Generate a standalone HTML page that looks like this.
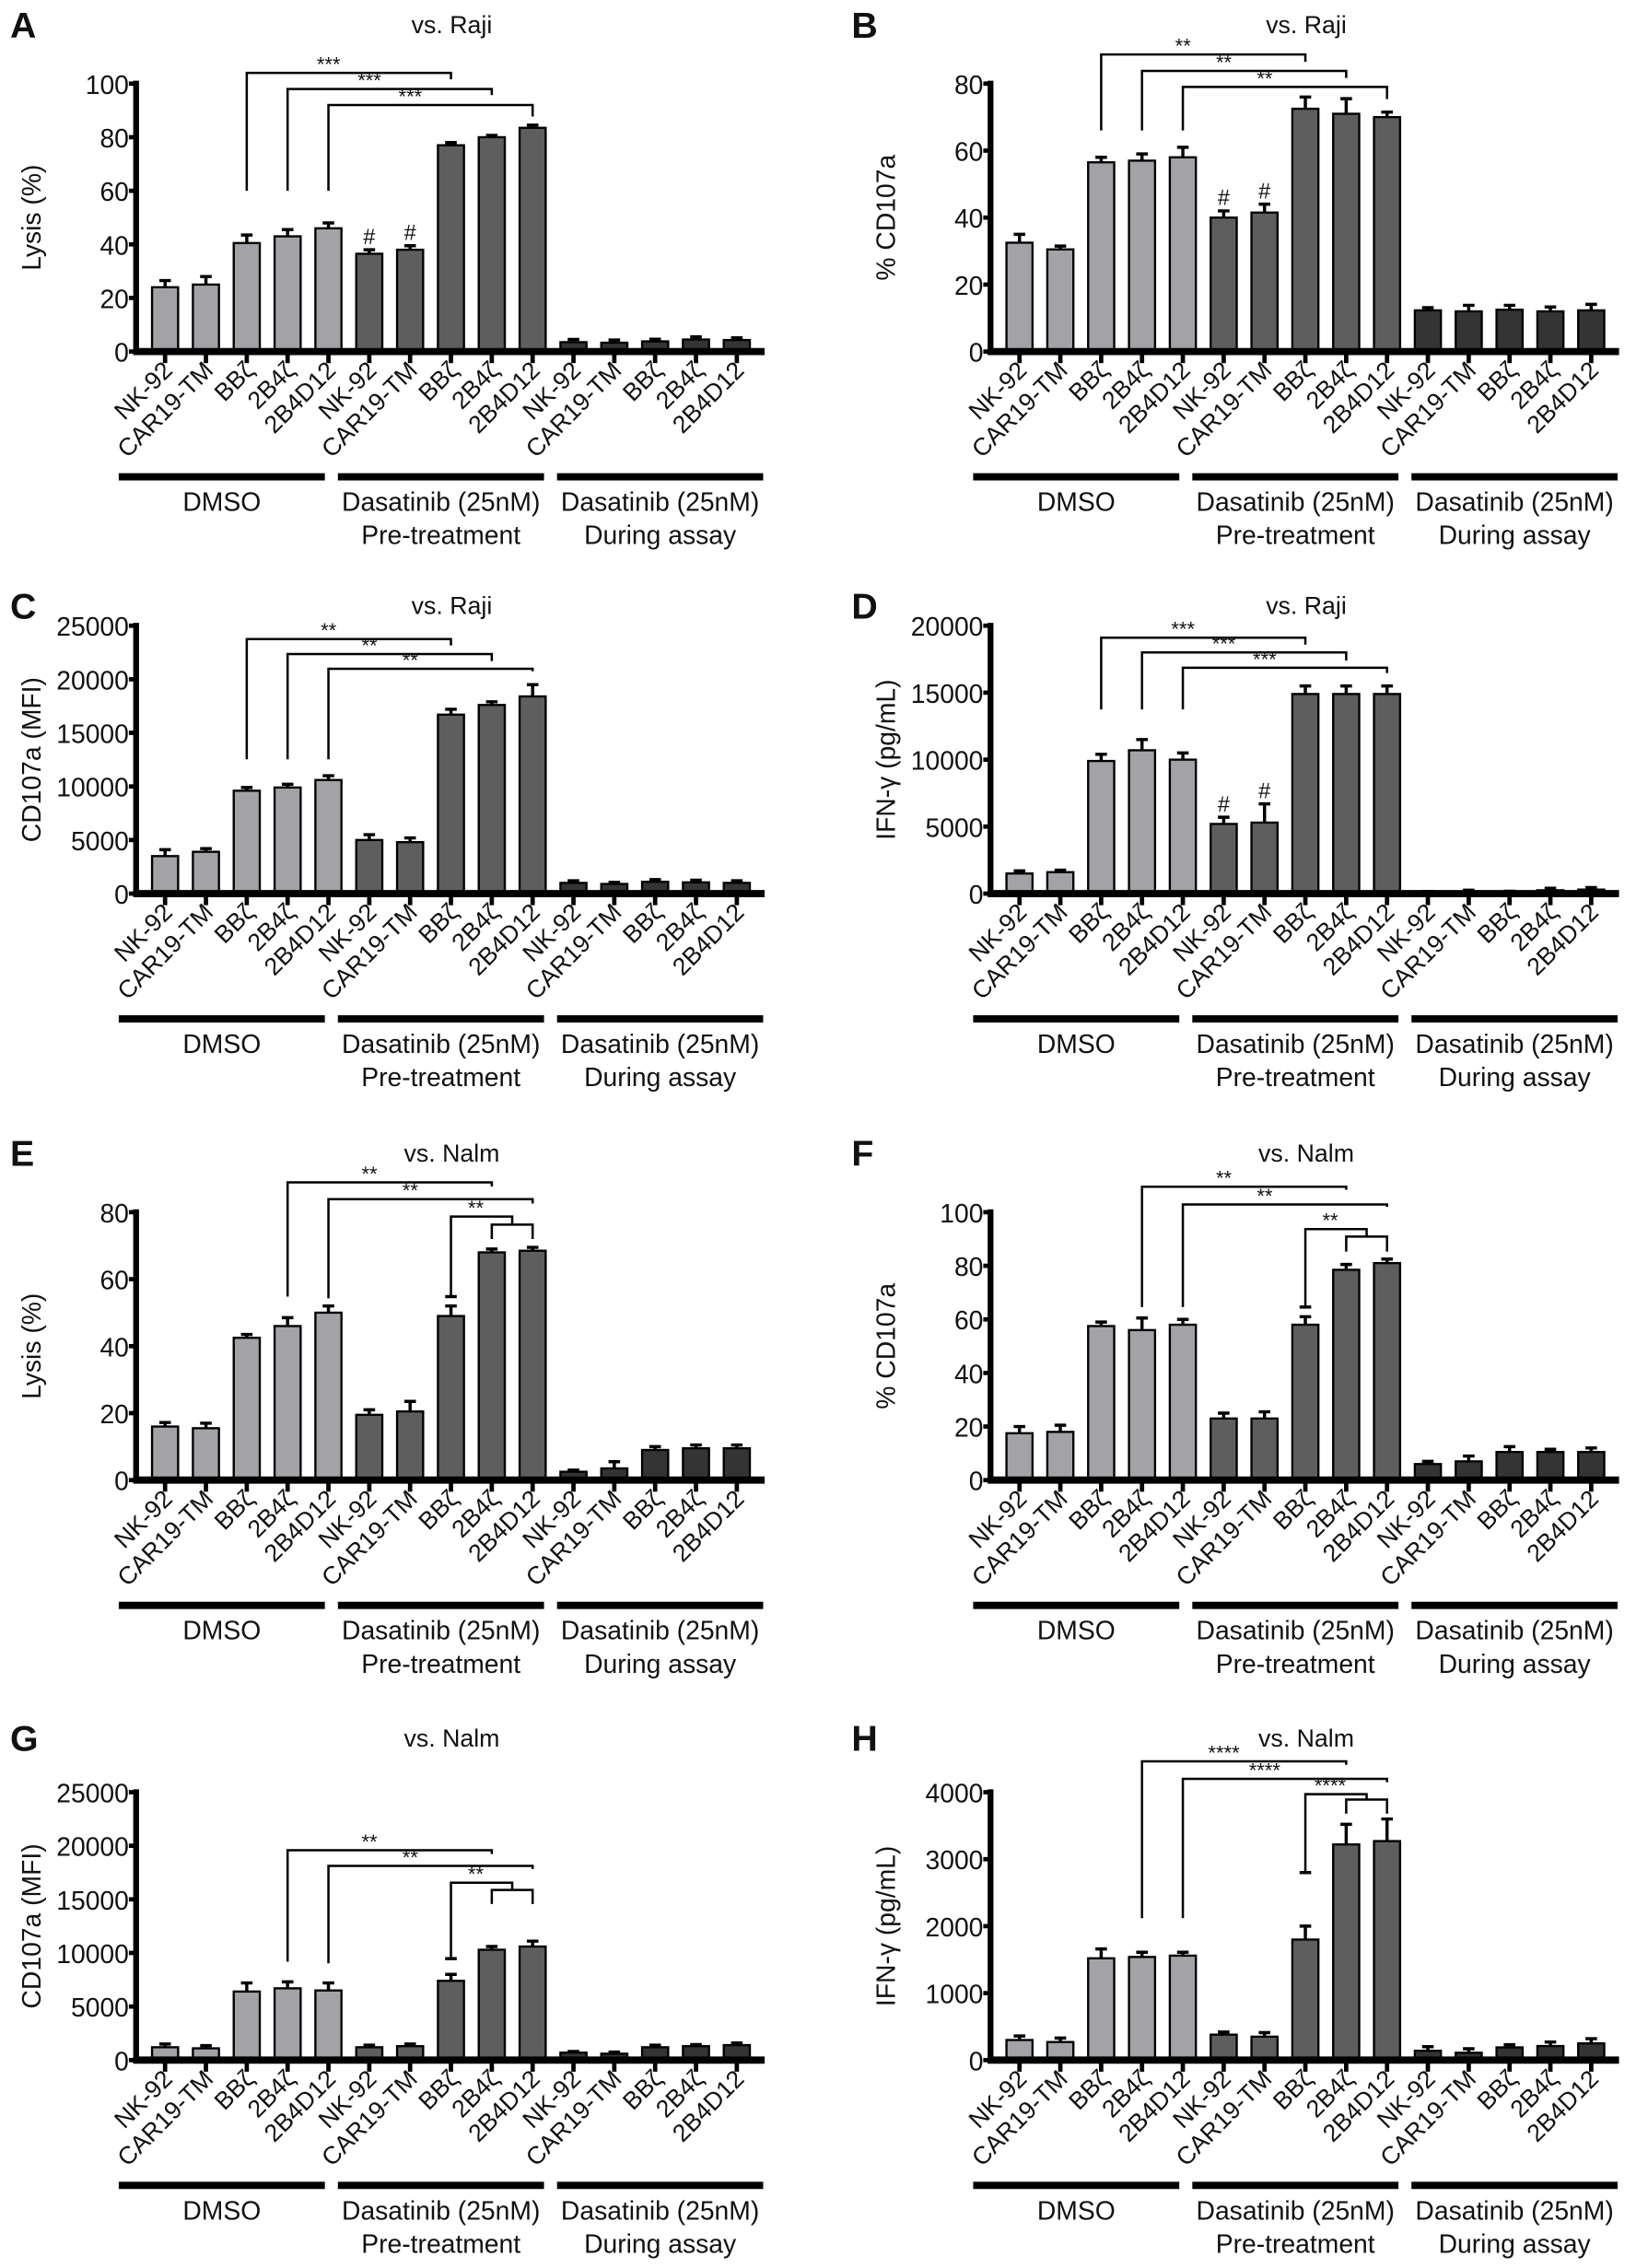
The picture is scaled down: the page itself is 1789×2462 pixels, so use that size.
<!DOCTYPE html>
<html><head><meta charset="utf-8"><style>
html,body{margin:0;padding:0;background:#fff}
svg{display:block}
text{font-family:"Liberation Sans",Arial,sans-serif;fill:#111}
</style></head><body>
<svg id="fig" xmlns="http://www.w3.org/2000/svg" width="1789" height="2462" viewBox="0 0 1138 1566"></svg>
<script>
const categories = ["NK-92","CAR19-TM","BB\u03B6","2B4\u03B6","2B4D12","NK-92","CAR19-TM","BB\u03B6","2B4\u03B6","2B4D12","NK-92","CAR19-TM","BB\u03B6","2B4\u03B6","2B4D12"];
const groups = [["DMSO"],["Dasatinib (25nM)","Pre-treatment"],["Dasatinib (25nM)","During assay"]];

const aVals = [24,25,40.5,43,46,36.5,38,77,80,83.5,3.5,3.3,3.8,4.5,4.3];
const aErrs = [2.5,3,3,2.5,2,1.5,1.5,1,0.7,1,1,1,0.8,1,0.8];
const aTicks = [0,20,40,60,80,100];
const aBrackets = [[2,7,104,60,101.6,"***"],[3,8,98,60,95.7,"***"],[4,9,92,60,87.7,"***"]];

const bVals = [32.5,30.5,56.5,57,58,40,41.5,72.5,71,70,12.3,12,12.5,12,12.3];
const bErrs = [2.5,1,1.5,2,3,2,2.5,3.5,4.5,1.5,0.8,1.8,1.3,1.3,1.8];
const bTicks = [0,20,40,60,80];
const bBrackets = [[2,7,88.7,66,86.5,"**"],[3,8,83.8,66,81.7,"**"],[4,9,79,66,75.4,"**"]];

const cVals = [3500,3900,9600,9900,10600,5000,4800,16700,17600,18400,1000,900,1100,1050,1000];
const cErrs = [600,300,300,300,400,500,400,500,300,1100,200,150,200,200,200];
const cTicks = [0,5000,10000,15000,20000,25000];
const cBrackets = [[2,7,23750,12530,23160,"**"],[3,8,22350,12530,21700,"**"],[4,9,20980,12530,20750,"**"]];

const dVals = [1500,1600,9900,10700,10000,5200,5300,14900,14900,14900,100,150,100,250,300];
const dErrs = [200,150,500,800,500,500,1400,600,600,600,50,100,80,150,150];
const dTicks = [0,5000,10000,15000,20000];
const dBrackets = [[2,7,19100,13750,18585,"***"],[3,8,18000,13750,17400,"***"],[4,9,16860,13750,16460,"***"]];

const eVals = [16,15.5,42.5,46,50,19.5,20.5,49,68,68.5,2.5,3.5,9,9.5,9.5];
const eErrs = [1.2,1.5,1,2.5,2,1.5,3,3,1,1,0.5,2,1,1,1];
const eTicks = [0,20,40,60,80];
const eBrackets = [[3,8,88.9,54.8,87.7,"**"],[4,9,83.9,54.3,82.6,"**"],[7,8.5,78.7,54.8,76.3,"**"],[8,9,76.3,72,72,""]];

const fVals = [17.5,18,57.5,56,58,23,23,58,78.5,81,6,7,10.5,10.5,10.5];
const fErrs = [2.5,2.5,1.5,4.5,2,2,2.5,3,2,1.5,1,2,2,1,1.5];
const fTicks = [0,20,40,60,80,100];
const fBrackets = [[3,8,109.5,64.6,108.4,"**"],[4,9,102.9,64.6,102,"**"],[7,8.5,93.7,64.6,90.9,"**"],[8,9,90.9,85.3,85.3,""]];

const gVals = [1200,1100,6400,6700,6500,1200,1300,7400,10300,10600,700,600,1200,1300,1400];
const gErrs = [300,250,800,600,700,200,200,600,300,500,100,150,200,150,200];
const gTicks = [0,5000,10000,15000,20000,25000];
const gBrackets = [[3,8,19580,9180,19230,"**"],[4,9,18120,9030,17830,"**"],[7,8.5,16550,9470,15880,"**"],[8,9,15880,14570,14570,""]];

const hVals = [300,270,1520,1540,1560,380,350,1800,3220,3270,140,110,190,210,250];
const hErrs = [60,60,140,70,50,40,60,200,300,330,60,60,40,60,70];
const hTicks = [0,1000,2000,3000,4000];
const hBrackets = [[3,8,4460,2120,4410,"****"],[4,9,4200,2120,4150,"****"],[7,8.5,3970,2800,3890,"****"],[8,9,3890,3680,3680,""]];

const NS = "http://www.w3.org/2000/svg";
const svg = document.getElementById("fig");
function mk(tag, attrs, parent){
  const e = document.createElementNS(NS, tag);
  for (const k in attrs) e.setAttribute(k, attrs[k]);
  (parent||svg).appendChild(e);
  return e;
}
const fills = ["#a2a2a7","#5e5e5e","#343434"];

function panel(p){
  const g = mk("g", {});
  
  
  const ax = p.axisX, zy = p.zeroY, H = 185;
  const max = p.ticks[p.ticks.length-1];
  const yS = v => zy - v / max * H;
  const xS = i => ax + 20 + i * 28.2;
  const axEnd = ax + 434;

  const letter = mk("text", {x: p.letterX, y: p.titleY + 3, "font-size": 25, "font-weight": "bold"}, g);
  letter.textContent = p.letter;
  
  
  const title = mk("text", {x: ax + 218, y: p.titleY, "font-size": 17, "text-anchor": "middle"}, g);
  title.textContent = p.title;
  
  

  const yl = mk("text", {x: 0, y: 0, "font-size": 18, "text-anchor": "middle", transform: "translate(" + (ax - 66) + "," + (zy - H/2) + ") rotate(-90)"}, g);
  yl.textContent = p.ylabel;
  
  

  for (let i = 0; i < p.vals.length; i++){
    const x = xS(i), v = p.vals[i], e = p.errs[i];
    const ey = yS(v + e);
    const eb = mk("path", {d: "M" + x + "," + yS(v) + "V" + ey + "M" + (x-4) + "," + ey + "H" + (x+4), stroke: "#000", "stroke-width": 2.2, fill: "none"}, g);
    
    
    const r = mk("rect", {x: x - 9, y: yS(v), width: 18, height: zy - yS(v), fill: fills[Math.floor(i/5)], stroke: "#000", "stroke-width": 1.5}, g);
    
    
    const tk = mk("line", {x1: x, x2: x, y1: zy, y2: zy + 8, stroke: "#000", "stroke-width": 3}, g);
    
    
    const lb = mk("text", {x: 0, y: 0, "font-size": 17, "text-anchor": "end", transform: "translate(" + (x + 6) + "," + (zy + 14) + ") rotate(-45)"}, g);
    lb.textContent = categories[i];
    
    
  }
  (p.hashes || []).forEach(i => {
    const t = mk("text", {x: xS(i), y: yS(p.vals[i] + p.errs[i]) - 4, "font-size": 15, "text-anchor": "middle"}, g);
    t.textContent = "#";
    
    
  });
  const yax = mk("line", {x1: ax, x2: ax, y1: yS(max) - 2, y2: zy + 2, stroke: "#000", "stroke-width": 4}, g);
  
  
  const xax = mk("line", {x1: ax - 2, x2: axEnd, y1: zy, y2: zy, stroke: "#000", "stroke-width": 5}, g);
  
  
  p.ticks.forEach(t => {
    const y = yS(t);
    const tl = mk("line", {x1: ax - 5, x2: ax, y1: y, y2: y, stroke: "#000", "stroke-width": 3}, g);
    
    
    const tt = mk("text", {x: ax - 5, y: y + 7, "font-size": 18, "text-anchor": "end"}, g);
    tt.textContent = t;
    
    
  });
  const xf = i => ax + 20 + i * 28.2;
  p.brackets.forEach(b => {
    const [l, r, top, lb, rb, lab] = b;
    const x1 = xf(l), x2 = xf(r), yt = yS(top);
    const br = mk("path", {d: "M" + x1 + "," + yS(lb) + "V" + yt + "H" + x2 + "V" + yS(rb), stroke: "#000", "stroke-width": 1.6, fill: "none"}, g);
    
    
    if (r % 1 !== 0){
      const cap = mk("line", {x1: x1 - 4, x2: x1 + 4, y1: yS(lb), y2: yS(lb), stroke: "#000", "stroke-width": 2.2}, g);
      
      
    }
    if (lab){
      const st = mk("text", {x: (x1 + x2) / 2 - (r % 1 !== 0 ? 4 : 14), y: yt - 1, "font-size": 14, "text-anchor": "middle"}, g);
      st.textContent = lab;
      
      
    }
  });
  const gx0 = ax - 12, gw = 445, seg = (gw - 18) / 3;
  groups.forEach((lines, k) => {
    const sx = gx0 + k * (seg + 9);
    const gl = mk("rect", {x: sx, y: zy + 84, width: seg, height: 5, fill: "#000"}, g);
    
    
    lines.forEach((ln, j) => {
      const gt = mk("text", {x: sx + seg / 2, y: zy + 110 + j * 23, "font-size": 18, "text-anchor": "middle"}, g);
      gt.textContent = ln;
      
      
    });
  });
}

const L = 94, R = 684;
panel({letter:"A", letterX:7, title:"vs. Raji", titleY:23, axisX:L, zeroY:242.7, ticks:aTicks, vals:aVals, errs:aErrs, brackets:aBrackets, hashes:[5,6], ylabel:"Lysis (%)"});
panel({letter:"B", letterX:588, title:"vs. Raji", titleY:23, axisX:R, zeroY:242.7, ticks:bTicks, vals:bVals, errs:bErrs, brackets:bBrackets, hashes:[5,6], ylabel:"% CD107a"});
panel({letter:"C", letterX:7, title:"vs. Raji", titleY:424, axisX:L, zeroY:617, ticks:cTicks, vals:cVals, errs:cErrs, brackets:cBrackets, ylabel:"CD107a (MFI)"});
panel({letter:"D", letterX:588, title:"vs. Raji", titleY:424, axisX:R, zeroY:617, ticks:dTicks, vals:dVals, errs:dErrs, brackets:dBrackets, hashes:[5,6], ylabel:"IFN-\u03B3 (pg/mL)"});
panel({letter:"E", letterX:7, title:"vs. Nalm", titleY:802, axisX:L, zeroY:1022, ticks:eTicks, vals:eVals, errs:eErrs, brackets:eBrackets, ylabel:"Lysis (%)"});
panel({letter:"F", letterX:588, title:"vs. Nalm", titleY:802, axisX:R, zeroY:1022, ticks:fTicks, vals:fVals, errs:fErrs, brackets:fBrackets, ylabel:"% CD107a"});
panel({letter:"G", letterX:7, title:"vs. Nalm", titleY:1206, axisX:L, zeroY:1422.5, ticks:gTicks, vals:gVals, errs:gErrs, brackets:gBrackets, ylabel:"CD107a (MFI)"});
panel({letter:"H", letterX:588, title:"vs. Nalm", titleY:1206, axisX:R, zeroY:1422.5, ticks:hTicks, vals:hVals, errs:hErrs, brackets:hBrackets, ylabel:"IFN-\u03B3 (pg/mL)"});
</script>
</body></html>
